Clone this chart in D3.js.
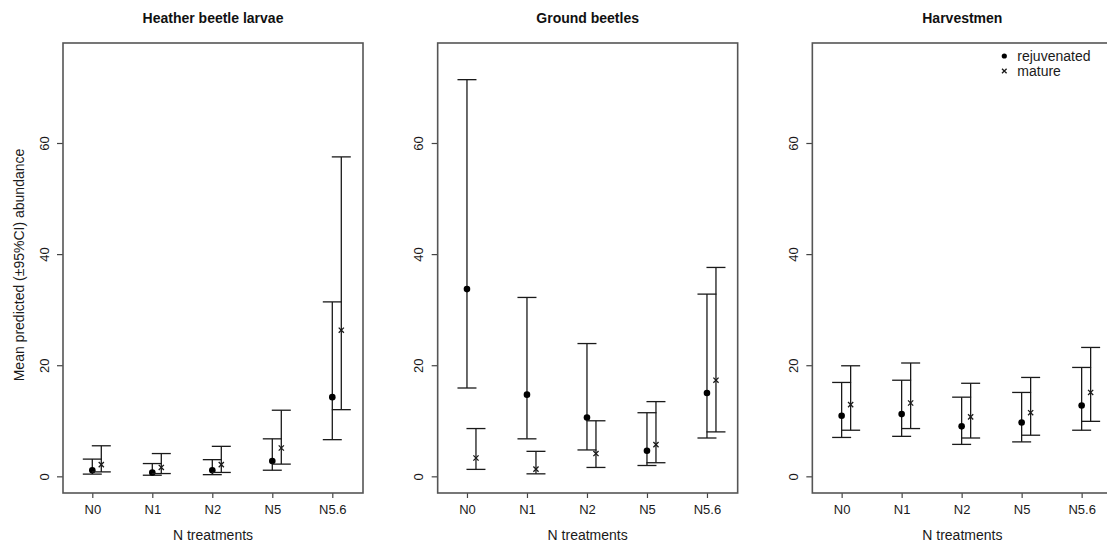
<!DOCTYPE html>
<html>
<head>
<meta charset="utf-8">
<script src="https://cdn.jsdelivr.net/npm/d3@7"></script>
<style>
  body { margin: 0; background: #fff; }
  svg { display: block; font-family: "Liberation Sans", Arial, sans-serif; }
</style>
</head>
<body>
<svg id="chart"></svg>
<script>
const categories = ["N0", "N1", "N2", "N5", "N5.6"];
const yTicks = [0, 20, 40, 60];
const panelTitles = ["Heather beetle larvae", "Ground beetles", "Harvestmen"];
const legendLabels = ["rejuvenated", "mature"];

// heather beetle larvae
const larvaeRejMean = [1.1, 0.7, 1.1, 2.75, 14.25];
const larvaeRejLo = [0.4, 0.2, 0.3, 1.1, 6.6];
const larvaeRejHi = [3.1, 2.3, 3.0, 6.75, 31.4];
const larvaeMatMean = [2.1, 1.6, 2.1, 5.1, 26.3];
const larvaeMatLo = [0.8, 0.5, 0.7, 2.2, 12.0];
const larvaeMatHi = [5.5, 4.1, 5.4, 11.9, 57.5];

// ground beetles
const groundRejMean = [33.7, 14.7, 10.6, 4.6, 15.0];
const groundRejLo = [15.9, 6.75, 4.75, 1.95, 6.9];
const groundRejHi = [71.4, 32.2, 23.9, 11.45, 32.8];
const groundMatMean = [3.3, 1.3, 4.1, 5.7, 17.3];
const groundMatLo = [1.25, 0.45, 1.6, 2.45, 8.0];
const groundMatHi = [8.6, 4.5, 10.0, 13.45, 37.6];

// harvestmen
const harvRejMean = [10.9, 11.2, 9.0, 9.7, 12.75];
const harvRejLo = [7.0, 7.2, 5.75, 6.2, 8.3];
const harvRejHi = [16.9, 17.3, 14.25, 15.1, 19.6];
const harvMatMean = [12.9, 13.2, 10.7, 11.45, 15.1];
const harvMatLo = [8.3, 8.6, 6.9, 7.4, 9.9];
const harvMatHi = [19.9, 20.4, 16.75, 17.8, 23.2];

function makeSeries(mean, lo, hi) {
  return categories.map((c, i) => ({ cat: c, mean: mean[i], lo: lo[i], hi: hi[i] }));
}

const panels = [
  { title: panelTitles[0], rej: makeSeries(larvaeRejMean, larvaeRejLo, larvaeRejHi), mat: makeSeries(larvaeMatMean, larvaeMatLo, larvaeMatHi) },
  { title: panelTitles[1], rej: makeSeries(groundRejMean, groundRejLo, groundRejHi), mat: makeSeries(groundMatMean, groundMatLo, groundMatHi) },
  { title: panelTitles[2], rej: makeSeries(harvRejMean, harvRejLo, harvRejHi), mat: makeSeries(harvMatMean, harvMatLo, harvMatHi) }
];

const dimensions = {
  width: 1107,
  height: 544,
  panelStep: 374.67,
  box: { left: 63, top: 43, width: 300, height: 450 }
};

const ink = "#1a1a1a";
const capHalf = 9.5;
const matOffset = 9;

const svg = d3.select("#chart")
  .attr("width", dimensions.width)
  .attr("height", dimensions.height);

const yScale = d3.scaleLinear()
  .domain([-3, 78])
  .range([dimensions.box.top + dimensions.box.height, dimensions.box.top]);

function drawErrorBar(g, d, x) {
  g.append("line")
    .attr("x1", x).attr("x2", x)
    .attr("y1", yScale(d.lo)).attr("y2", yScale(d.hi))
    .attr("stroke", ink).attr("stroke-width", 1.3);
  [d.lo, d.hi].forEach(v => {
    g.append("line")
      .attr("x1", x - capHalf).attr("x2", x + capHalf)
      .attr("y1", yScale(v)).attr("y2", yScale(v))
      .attr("stroke", ink).attr("stroke-width", 1.3);
  });
}

function drawCross(g, x, y, s) {
  g.append("path")
    .attr("d", `M${x - s},${y - s}L${x + s},${y + s}M${x - s},${y + s}L${x + s},${y - s}`)
    .attr("stroke", ink).attr("stroke-width", 1.3).attr("fill", "none");
}

function drawPanel(panel, idx) {
  const { box } = dimensions;
  const left = box.left + idx * dimensions.panelStep;
  const g = svg.append("g");

  const xScale = d3.scalePoint()
    .domain(categories)
    .range([left + 29.3, left + 269.3]);

  // y axis
  g.append("g")
    .attr("transform", `translate(${left},0)`)
    .call(d3.axisLeft(yScale).tickValues(yTicks).tickSize(6).tickFormat(d3.format("d")))
    .call(a => a.select(".domain").remove())
    .call(a => a.selectAll("line").attr("stroke", "#444").attr("stroke-width", 1.2))
    .call(a => a.selectAll("text")
      .attr("font-size", 13).attr("fill", ink)
      .attr("transform", "rotate(-90)")
      .attr("text-anchor", "middle")
      .attr("x", d => -yScale(d)).attr("y", -11).attr("dy", 0)
      .attr("dominant-baseline", "auto"));

  // fix rotated tick labels: undo tick translate
  g.selectAll(".tick").each(function (d) {
    d3.select(this).select("text")
      .attr("transform", `rotate(-90)`)
      .attr("x", 0).attr("y", -14.5);
  });

  // x axis
  g.append("g")
    .attr("transform", `translate(0,${box.top + box.height})`)
    .call(d3.axisBottom(xScale).tickSize(5).tickPadding(7))
    .call(a => a.select(".domain").remove())
    .call(a => a.selectAll("line").attr("stroke", "#444").attr("stroke-width", 1.2))
    .call(a => a.selectAll("text").attr("font-size", 13).attr("fill", ink));

  // box
  g.append("rect")
    .attr("x", left).attr("y", box.top)
    .attr("width", box.width).attr("height", box.height)
    .attr("fill", "none").attr("stroke", "#555").attr("stroke-width", 1.6);

  // rejuvenated
  panel.rej.forEach(d => {
    const x = xScale(d.cat);
    drawErrorBar(g, d, x);
    g.append("circle").attr("cx", x).attr("cy", yScale(d.mean)).attr("r", 3.3).attr("fill", "#000");
  });

  // mature
  panel.mat.forEach(d => {
    const x = xScale(d.cat) + matOffset;
    drawErrorBar(g, d, x);
    drawCross(g, x, yScale(d.mean), 2.6);
  });

  // title
  g.append("text")
    .attr("x", left + box.width / 2).attr("y", 22.7)
    .attr("text-anchor", "middle")
    .attr("font-size", 14).attr("font-weight", "bold").attr("fill", "#111")
    .text(panel.title);

  g.append("text")
    .attr("x", left + box.width / 2).attr("y", 540)
    .attr("text-anchor", "middle")
    .attr("font-size", 14).attr("fill", ink)
    .text("N treatments");

  return { g, left };
}

function addYLabel() {
  svg.append("text")
    .attr("text-anchor", "middle")
    .attr("transform", "translate(23.5,265)rotate(-90)")
    .attr("font-size", 14).attr("fill", ink)
    .text("Mean predicted (\u00b195%CI) abundance");
}

function addLegend(left) {
  const lx = left + 941.3 - dimensions.panelStep * 2;
  const rows = [56, 71];
  const lg = svg.append("g");
  lg.append("circle").attr("cx", lx).attr("cy", rows[0]).attr("r", 2.6).attr("fill", "#000");
  drawCross(lg, lx, rows[1], 2.3);
  legendLabels.forEach((t, i) => {
    lg.append("text")
      .attr("x", lx + 13).attr("y", rows[i] + 5)
      .attr("font-size", 14).attr("fill", ink)
      .text(t);
  });
}

const drawn = panels.map((p, i) => drawPanel(p, i));
addYLabel();
addLegend(drawn[2].left);
</script>
</body>
</html>
